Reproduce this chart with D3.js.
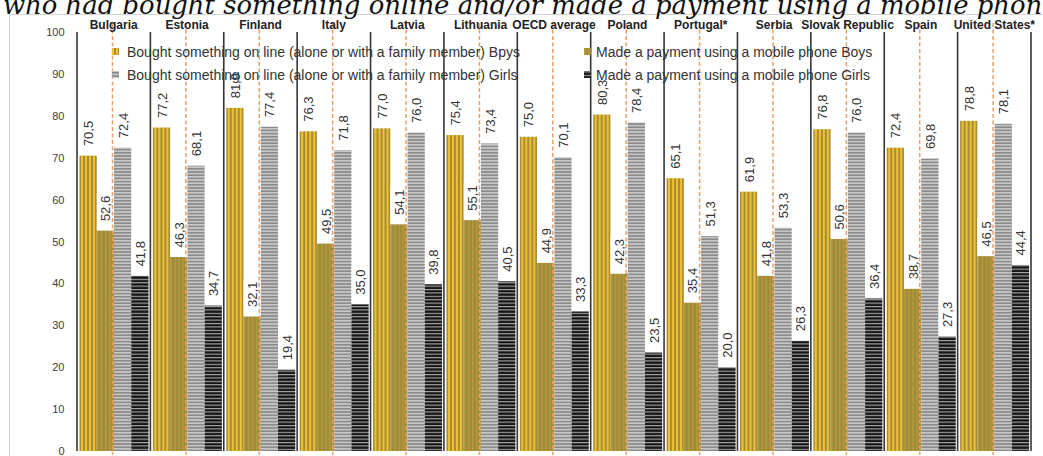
<!DOCTYPE html>
<html><head><meta charset="utf-8">
<script src="https://cdn.jsdelivr.net/npm/d3@7"></script>
<style>
html,body{margin:0;padding:0;background:#fff;overflow:hidden}
svg{display:block}
</style></head><body>
<svg id="chart" width="1043" height="456"></svg>
<script>
// ---- data ----
const countries = ["Bulgaria","Estonia","Finland","Italy","Latvia","Lithuania","OECD average","Poland","Portugal*","Serbia","Slovak Republic","Spain","United States*"];
const boughtBoys   = [70.5, 77.2, 81.9, 76.3, 77.0, 75.4, 75.0, 80.3, 65.1, 61.9, 76.8, 72.4, 78.8];
const paymentBoys  = [52.6, 46.3, 32.1, 49.5, 54.1, 55.1, 44.9, 42.3, 35.4, 41.8, 50.6, 38.7, 46.5];
const boughtGirls  = [72.4, 68.1, 77.4, 71.8, 76.0, 73.4, 70.1, 78.4, 51.3, 53.3, 76.0, 69.8, 78.1];
const paymentGirls = [41.8, 34.7, 19.4, 35.0, 39.8, 40.5, 33.3, 23.5, 20.0, 26.3, 36.4, 27.3, 44.4];
const seriesKeys = ["boughtBoys","paymentBoys","boughtGirls","paymentGirls"];
const seriesNames = [
  "Bought something on line (alone or with a family member) Bpys",
  "Made a payment using a mobile phone Boys",
  "Bought something on line (alone or with a family member) Girls",
  "Made a payment using a mobile phone Girls"
];
const yTickValues = [0, 10, 20, 30, 40, 50, 60, 70, 80, 90, 100];
const titleText = "who had bought something online and/or made a payment using a mobile phone";

const seriesValues = [boughtBoys, paymentBoys, boughtGirls, paymentGirls];
const rows = countries.map((c, i) => ({
  country: c,
  values: seriesKeys.map((k, j) => ({ key: k, value: seriesValues[j][i] }))
}));

// ---- setup ----
const svg = d3.select("#chart");
const W = 1043, H = 456;
const FONT = "'Liberation Sans', Arial, sans-serif";

const y = d3.scaleLinear().domain([0, 100]).range([451, 32]);
const x = d3.scaleBand().domain(countries).range([77, 1031]).paddingInner(0).paddingOuter(0);
const xs = d3.scaleBand().domain(seriesKeys).range([2.5, 71.5]).paddingInner(0);

// ---- fill patterns ----
const defs = svg.append("defs");
function stripes(id, w, h, base, stripe, vertical, size) {
  const p = defs.append("pattern").attr("id", id)
    .attr("patternUnits", "userSpaceOnUse").attr("width", w).attr("height", h);
  p.append("rect").attr("width", w).attr("height", h).attr("fill", base);
  if (vertical) p.append("rect").attr("x", 0).attr("y", 0).attr("width", size).attr("height", h).attr("fill", stripe);
  else p.append("rect").attr("x", 0).attr("y", 0).attr("width", w).attr("height", size).attr("fill", stripe);
}
stripes("pat-boughtBoys", 4, 4, "#a68d38", "#efc130", true, 2);
stripes("pat-paymentBoys", 4, 4, "#9f893c", "#b69c3a", true, 1.5);
stripes("pat-boughtGirls", 4, 3.2, "#8b8b8b", "#c6c6c6", false, 1.6);
stripes("pat-paymentGirls", 4, 3.4, "#151515", "#a9a9a9", false, 1.1);
const fillFor = k => `url(#pat-${k})`;

// ---- chart frame ----
svg.append("line").attr("x1", 9).attr("x2", W).attr("y1", 14.5).attr("y2", 14.5)
  .attr("stroke", "#d4d4d4").attr("stroke-width", 1);
svg.append("line").attr("x1", 9.5).attr("x2", 9.5).attr("y1", 14).attr("y2", H)
  .attr("stroke", "#d4d4d4").attr("stroke-width", 1);

// ---- y axis labels ----
const yAxis = d3.axisLeft(y).tickValues(yTickValues).tickSize(0).tickPadding(0);
const gy = svg.append("g").attr("transform", "translate(64.5,0)").call(yAxis);
gy.select(".domain").remove();
gy.selectAll("text").attr("font-family", FONT).attr("font-size", 11).attr("fill", "#404040");

// ---- group separators (solid) ----
const edges = countries.map(c => x(c)).concat([x.range()[1]]);
svg.append("g").selectAll("line").data(edges).join("line")
  .attr("x1", d => d).attr("x2", d => d)
  .attr("y1", y(100)).attr("y2", y(0))
  .attr("stroke", "#363636").attr("stroke-width", 1.6);

// ---- bars ----
const groups = svg.append("g").selectAll("g").data(rows).join("g")
  .attr("transform", d => `translate(${x(d.country)},0)`);
groups.selectAll("rect").data(d => d.values).join("rect")
  .attr("x", d => xs(d.key)).attr("width", xs.bandwidth())
  .attr("y", d => y(d.value)).attr("height", d => y(0) - y(d.value))
  .attr("fill", d => fillFor(d.key));

// ---- dashed mid-group lines ----
svg.append("g").selectAll("line").data(countries).join("line")
  .attr("x1", d => x(d) + 35.5).attr("x2", d => x(d) + 35.5)
  .attr("y1", 23).attr("y2", 455)
  .attr("stroke", "#e9a06a").attr("stroke-width", 1.5).attr("stroke-dasharray", "4,2.5");

// ---- value labels ----
const fmt = v => d3.format(".1f")(v).replace(".", ",");
const lab = groups.selectAll("g.vl").data(d => d.values).join("g").attr("class", "vl")
  .attr("transform", d => `translate(${xs(d.key) + xs.bandwidth() / 2},${y(d.value) - 9.5}) rotate(-90)`);
lab.append("rect").attr("class", "bg").attr("fill", "#fff");
lab.append("text").text(d => fmt(d.value))
  .attr("font-family", FONT).attr("font-size", 13).attr("fill", "#333")
  .attr("dominant-baseline", "central").attr("x", 0).attr("y", 0.5);
lab.each(function() {
  const g = d3.select(this);
  const len = g.select("text").node().getComputedTextLength();
  g.select("rect.bg").attr("x", -8).attr("y", -8.5).attr("width", len + 11).attr("height", 17);
});

// ---- country labels ----
svg.append("g").selectAll("text").data(countries).join("text")
  .attr("x", d => x(d) + x.bandwidth() / 2).attr("y", 29)
  .attr("text-anchor", "middle")
  .attr("font-family", FONT).attr("font-size", 12).attr("font-weight", "bold").attr("fill", "#222")
  .text(d => d);

// ---- legend ----
const legendItems = [
  { key: "boughtBoys",   name: seriesNames[0], mx: 112, tx: 127, ty: 52 },
  { key: "boughtGirls",  name: seriesNames[2], mx: 112, tx: 127, ty: 75 },
  { key: "paymentBoys",  name: seriesNames[1], mx: 584, tx: 596, ty: 52 },
  { key: "paymentGirls", name: seriesNames[3], mx: 584, tx: 596, ty: 75 }
];
const lg = svg.append("g").selectAll("g").data(legendItems).join("g");
lg.append("rect").attr("x", d => d.mx).attr("y", d => d.ty - 4).attr("width", 7).attr("height", 7)
  .attr("fill", d => fillFor(d.key));
lg.append("text").attr("x", d => d.tx).attr("y", d => d.ty).attr("dominant-baseline", "central")
  .attr("font-family", FONT).attr("font-size", 14).attr("fill", "#333")
  .text(d => d.name);

// ---- title (partly above the frame) ----
const title = svg.append("text").attr("x", 3).attr("y", 13.5)
  .attr("font-family", "'DejaVu Serif', serif").attr("font-style", "italic")
  .attr("font-size", 20).attr("fill", "#111").text(titleText);
// size the title so the visible run fills the width
const probe = svg.append("text").attr("font-family", "'DejaVu Serif', serif").attr("font-style", "italic")
  .attr("font-size", 20).text("who had bought something online and/or made a payment using a mobile phon");
const pw = probe.node().getComputedTextLength();
probe.remove();
title.attr("font-size", 20 * 1040 / pw);
</script>
</body></html>
